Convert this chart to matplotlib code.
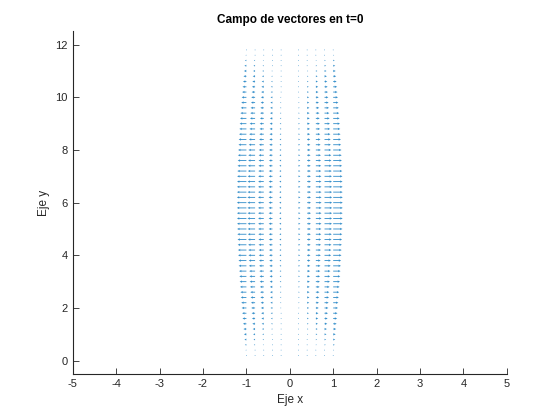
import numpy as np
import matplotlib
matplotlib.use("Agg")
import matplotlib.pyplot as plt

# grid columns (x) and rows (y) of the vector field (x=0 column has zero vectors, not drawn)
x_cols = [-1.0, -0.8, -0.6, -0.4, -0.2, 0.2, 0.4, 0.6, 0.8, 1.0]
y_rows = [round(0.2 * k, 1) for k in range(1, 60)]
# horizontal-component amplitude per row (relative to max)
row_amp = [0.05, 0.10, 0.16, 0.21, 0.26, 0.31, 0.36, 0.41, 0.45, 0.50,
           0.54, 0.59, 0.63, 0.67, 0.71, 0.74, 0.77, 0.81, 0.83, 0.87,
           0.89, 0.91, 0.93, 0.95, 0.97, 0.98, 0.99, 0.99, 1.00, 1.00,
           1.00, 0.99, 0.99, 0.98, 0.97, 0.95, 0.93, 0.91, 0.89, 0.87,
           0.83, 0.81, 0.77, 0.74, 0.71, 0.67, 0.63, 0.59, 0.54, 0.50,
           0.45, 0.41, 0.36, 0.31, 0.26, 0.21, 0.16, 0.10, 0.05]

X, Y = np.meshgrid(x_cols, y_rows)
U = X * np.array(row_amp)[:, None]
V = np.zeros_like(U)

plt.rcParams['font.family'] = ['Liberation Sans', 'DejaVu Sans']
plt.rcParams['axes.unicode_minus'] = False
fig = plt.figure(figsize=(5.6, 4.2), dpi=100)
ax = fig.add_axes([0.13, 0.11, 0.775, 0.815])

ax.quiver(X, Y, U, V, angles='xy', scale_units='xy', scale=1 / 0.22,
          color='#0072BD', width=0.002, headwidth=2.8, headlength=2.8,
          headaxislength=2.5, alpha=0.8)

ax.set_xlim(-5, 5)
ax.set_ylim(-0.5, 12.5)
ax.set_xticks(np.arange(-5, 6, 1))
ax.set_yticks(np.arange(0, 13, 2))
gray = (0.15, 0.15, 0.15)
for s in ['top', 'right']:
    ax.spines[s].set_visible(False)
for s in ['left', 'bottom']:
    ax.spines[s].set_color(gray)
    ax.spines[s].set_linewidth(0.8)
ax.tick_params(direction='in', length=4, width=0.6, colors=gray, labelsize=8)
ax.set_xlabel('Eje x', fontsize=8.5, color=gray)
ax.set_ylabel('Eje y', fontsize=8.5, color=gray)
ax.set_title('Campo de vectores en t=0', fontsize=8.5, fontweight='bold')

fig.savefig('out.png', dpi=100)
